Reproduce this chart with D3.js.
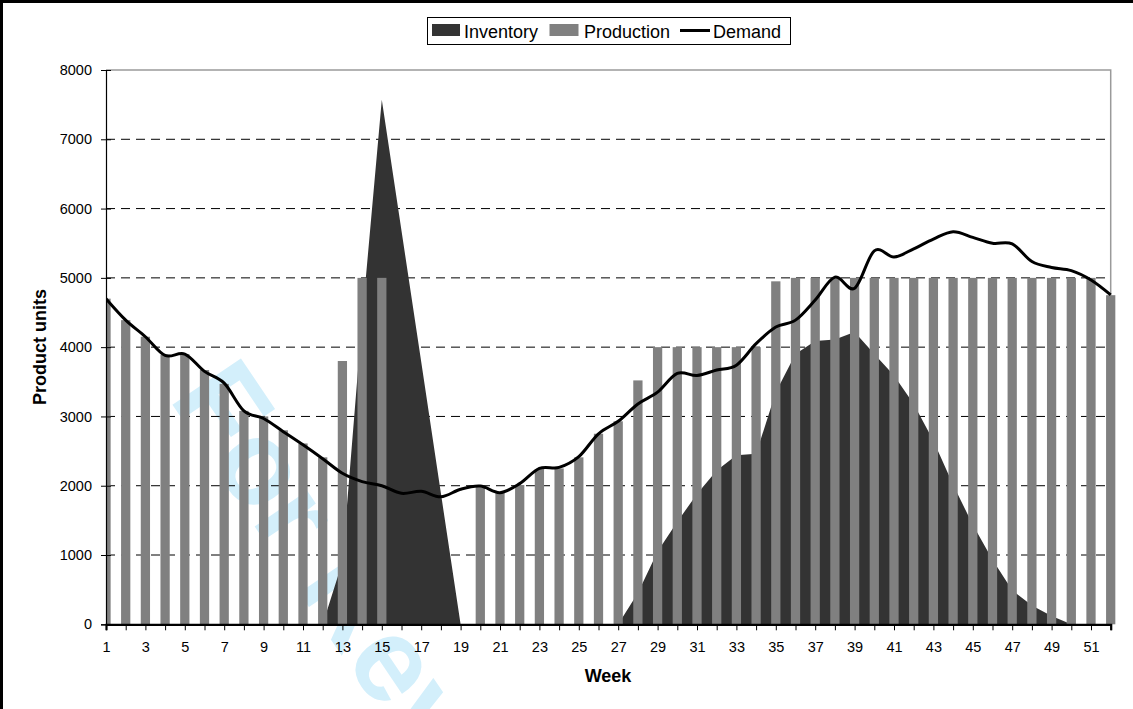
<!DOCTYPE html>
<html><head><meta charset="utf-8">
<script src="https://cdn.jsdelivr.net/npm/d3@7"></script>
<style>html,body{margin:0;padding:0;background:#fff;} svg{display:block;font-family:"Liberation Sans",Arial,Helvetica,sans-serif;}</style>
</head><body><svg id="c" width="1133" height="709"></svg>
<script>
const weeks = [1,2,3,4,5,6,7,8,9,10,11,12,13,14,15,16,17,18,19,20,21,22,23,24,25,26,
  27,28,29,30,31,32,33,34,35,36,37,38,39,40,41,42,43,44,45,46,47,48,49,50,51,52];
const inventory = [0,0,0,0,0,0,0,0,0,0,0,0,900,4400,7570,5680,3790,1890,0,0,0,0,0,0,0,0,
  0,450,1050,1480,1880,2220,2440,2460,3350,3900,4090,4110,4220,3900,3590,3180,2650,2015,1435,930,490,270,120,0,0,0];
const production = [4700,4390,4150,3890,3900,3670,3470,3080,3000,2800,2610,2410,3800,5000,5000,0,0,0,0,1980,1900,2010,2240,2250,2410,2750,
  2930,3520,4000,4000,4000,4000,4000,4000,4950,5000,5000,5000,5000,5000,5000,5000,5000,5000,5000,5000,5000,5000,5000,5000,5000,4750];
const demand = [4700,4390,4150,3880,3900,3650,3480,3080,2970,2780,2590,2390,2180,2060,2000,1890,1920,1840,1950,1995,1900,2030,2250,2265,2420,2750,
  2930,3180,3350,3620,3590,3670,3740,4050,4290,4390,4680,5010,4850,5390,5300,5420,5560,5665,5585,5500,5490,5235,5150,5105,4970,4755];
const yTicks = [0,1000,2000,3000,4000,5000,6000,7000,8000];
const gridTicks = [1000,2000,3000,4000,5000,6000,7000];
const xTickLabels = weeks.filter(w => w % 2 === 1);
const seriesNames = ["Inventory","Production","Demand"];
const seriesColors = ["#333333","#808080","#000000"];

const svg = d3.select("#c");
const P = {left:106, right:1110.7, top:70, bottom:624.3};
const x = d3.scalePoint().domain(weeks).range([P.left, P.right]);
const y = d3.scaleLinear().domain([0,8000]).range([P.bottom, P.top]);
const step = x.step();
const bw = step * 0.47;

// outer frame (top and left visible)
svg.append("rect").attr("x",1.5).attr("y",1.5).attr("width",1160).attr("height",740)
  .attr("fill","none").attr("stroke","#000").attr("stroke-width",3);

// watermark
svg.append("text").attr("transform","translate(168,398) rotate(56)")
  .attr("font-size",120).attr("font-weight","bold").attr("fill","#d3effb")
  .text("For Review");

// plot border (top/right)
svg.append("path").attr("d",`M${P.left},${P.top}H${P.right}V${P.bottom}`)
  .attr("fill","none").attr("stroke","#9a9a9a").attr("stroke-width",1.5);

// gridlines
svg.append("g").selectAll("line").data(gridTicks).join("line")
  .attr("x1",P.left).attr("x2",P.right).attr("y1",d=>y(d)).attr("y2",d=>y(d))
  .attr("stroke","#000").attr("stroke-width",1).attr("stroke-dasharray","9,6");

const clip = svg.append("clipPath").attr("id","pc").append("rect")
  .attr("x",P.left).attr("y",0).attr("width",1125-P.left).attr("height",P.bottom+1);

const g = svg.append("g").attr("clip-path","url(#pc)");
// inventory area
g.append("path").datum(weeks.map((w,i)=>[w,inventory[i]]))
  .attr("fill",seriesColors[0])
  .attr("d", d3.area().x(d=>x(d[0])).y0(y(0)).y1(d=>y(d[1])));
// production bars
g.append("g").selectAll("rect").data(weeks.map((w,i)=>[w,production[i]]).filter(d=>d[1]>0)).join("rect")
  .attr("x",d=>x(d[0])-bw/2).attr("width",bw)
  .attr("y",d=>y(d[1])).attr("height",d=>y(0)-y(d[1]))
  .attr("fill",seriesColors[1]);
// demand line
g.append("path").datum(weeks.map((w,i)=>[w,demand[i]]))
  .attr("fill","none").attr("stroke",seriesColors[2]).attr("stroke-width",3)
  .attr("stroke-linejoin","round")
  .attr("d", d3.line().x(d=>x(d[0])).y(d=>y(d[1])).curve(d3.curveCardinal.tension(0)));

// y axis
const ya = svg.append("g").attr("transform",`translate(${P.left},0)`)
  .call(d3.axisLeft(y).tickValues(yTicks).tickSize(5).tickPadding(9).tickFormat(d3.format("d")));
ya.select(".domain").attr("stroke","#000").attr("stroke-width",1.2);
ya.selectAll(".tick line").attr("x1",5).attr("x2",-5).attr("stroke","#000");
ya.selectAll(".tick text").attr("font-size",14.5).attr("font-family","Liberation Sans, Arial, sans-serif").attr("fill","#000");

// x axis
const xa = svg.append("g").attr("transform",`translate(0,${P.bottom})`)
  .call(d3.axisBottom(x).tickValues(weeks).tickSize(6).tickPadding(11)
    .tickFormat(d => xTickLabels.includes(d) ? d : ""));
xa.select(".domain").attr("stroke","#000").attr("stroke-width",2.2);
xa.selectAll(".tick line").attr("stroke","#000");
xa.selectAll(".tick text").attr("font-size",14.5).attr("font-family","Liberation Sans, Arial, sans-serif").attr("fill","#000");

// axis titles
svg.append("text").attr("transform","translate(46,347) rotate(-90)")
  .attr("text-anchor","middle").attr("font-size",18).attr("font-weight","bold").text("Product units");
svg.append("text").attr("x",608).attr("y",682).attr("text-anchor","middle")
  .attr("font-size",18).attr("font-weight","bold").text("Week");

// legend
const lg = svg.append("g");
lg.append("rect").attr("x",427.5).attr("y",17.5).attr("width",363).attr("height",27)
  .attr("fill","#fff").attr("stroke","#000").attr("stroke-width",1);
lg.append("rect").attr("x",432).attr("y",24).attr("width",28).attr("height",12).attr("fill",seriesColors[0]);
lg.append("text").attr("x",464).attr("y",38).attr("font-size",18).text(seriesNames[0]);
lg.append("rect").attr("x",549.5).attr("y",24).attr("width",29).attr("height",12).attr("fill",seriesColors[1]);
lg.append("text").attr("x",584).attr("y",38).attr("font-size",18).text(seriesNames[1]);
lg.append("line").attr("x1",680).attr("x2",710).attr("y1",30.5).attr("y2",30.5).attr("stroke",seriesColors[2]).attr("stroke-width",3);
lg.append("text").attr("x",713).attr("y",38).attr("font-size",18).text(seriesNames[2]);
</script></body></html>
